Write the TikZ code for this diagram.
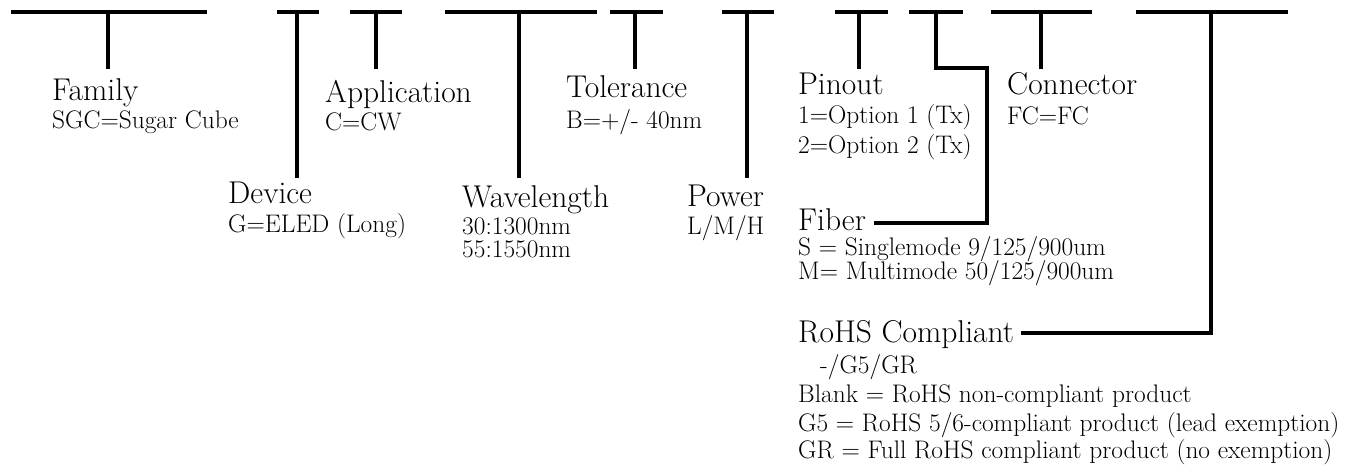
\documentclass[tikz,border=0pt]{standalone}
\usepackage{fontspec}
\setmainfont{Latin Modern Roman}
\begin{document}
\begin{tikzpicture}[x=1pt,y=-1pt,
  bar/.style={line width=3.4pt, line cap=butt, line join=miter},
  big/.style={anchor=base west, inner sep=0pt, font=\fontsize{31.5}{34}\selectfont},
  small/.style={anchor=base west, inner sep=0pt, font=\fontsize{25.4}{28}\selectfont}]
\useasboundingbox (0,0) rectangle (1362,471);

% text nodes
\node[big]   (family)  at (52,100)  {Family};
\node[small] (familyv) at (52,128)  {SGC=Sugar Cube};
\node[big]   (device)  at (228,203) {Device};
\node[small] (devicev) at (228,232) {G=ELED (Long)};
\node[big]   (appl)    at (325,102) {Application};
\node[small] (applv)   at (325,130) {C=CW};
\node[big]   (wave)    at (462,207) {Wavelength};
\node[small] (wavea)   at (462,234) {30:1300nm};
\node[small] (waveb)   at (462,257) {55:1550nm};
\node[big]   (tol)     at (566,97)  {Tolerance};
\node[small] (tolv)    at (566,128) {B=+/- 40nm};
\node[big]   (power)   at (687,206) {Power};
\node[small] (powerv)  at (687,234) {L/M/H};
\node[big]   (pinout)  at (798,94)  {Pinout};
\node[small] (pina)    at (798,123) {1=Option 1 (Tx)};
\node[small] (pinb)    at (798,153) {2=Option 2 (Tx)};
\node[big]   (fiber)   at (798,230) {Fiber};
\node[small] (fibera)  at (798,255) {S = Singlemode 9/125/900um};
\node[small] (fiberb)  at (798,279) {M= Multimode 50/125/900um};
\node[big]   (conn)    at (1007,94) {Connector};
\node[small] (connv)   at (1007,124){FC=FC};
\node[big]   (rohs)    at (798,342) {RoHS Compliant};
\node[small] (rohsv)   at (820,373) {-/G5/GR};
\node[small] (rohsa)   at (798,402) {Blank = RoHS non-compliant product};
\node[small] (rohsb)   at (798,431) {G5 = RoHS 5/6-compliant product (lead exemption)};
\node[small] (rohsc)   at (798,458) {GR = Full RoHS compliant product (no exemption)};

% bars and stems
\foreach \a/\b/\s/\e [count=\i] in {11/207/108/69, 277/319/297/178, 350/402/376/69,
    445/597/519/178, 610/663/635/69, 722/774/747/178, 835/888/859/69, 991/1092/1041/69}{
  \coordinate (l\i) at (\a,12);
  \coordinate (r\i) at (\b,12);
  \coordinate (t\i) at (\s,12);
  \coordinate (s\i) at (\s,\e);
  \draw[bar] (l\i) -- (r\i);
  \draw[bar] (t\i) -- (s\i);
}

% fiber bar
\coordinate (fl) at (909,12);
\coordinate (fr) at (963,12);
\coordinate (ft) at (936,12);
\coordinate (fk) at (987,68);
\coordinate (fe) at ([xshift=8pt]fiber.east |- 0,223);
\draw[bar] (fl) -- (fr);
\draw[bar] (ft) |- (fk) |- (fe);

% RoHS bar
\coordinate (rl) at (1136,12);
\coordinate (rr) at (1288,12);
\coordinate (rt) at (1211,12);
\coordinate (re) at ([xshift=7pt]rohs.east |- 0,333);
\draw[bar] (rl) -- (rr);
\draw[bar] (rt) |- (re);
\end{tikzpicture}
\end{document}
